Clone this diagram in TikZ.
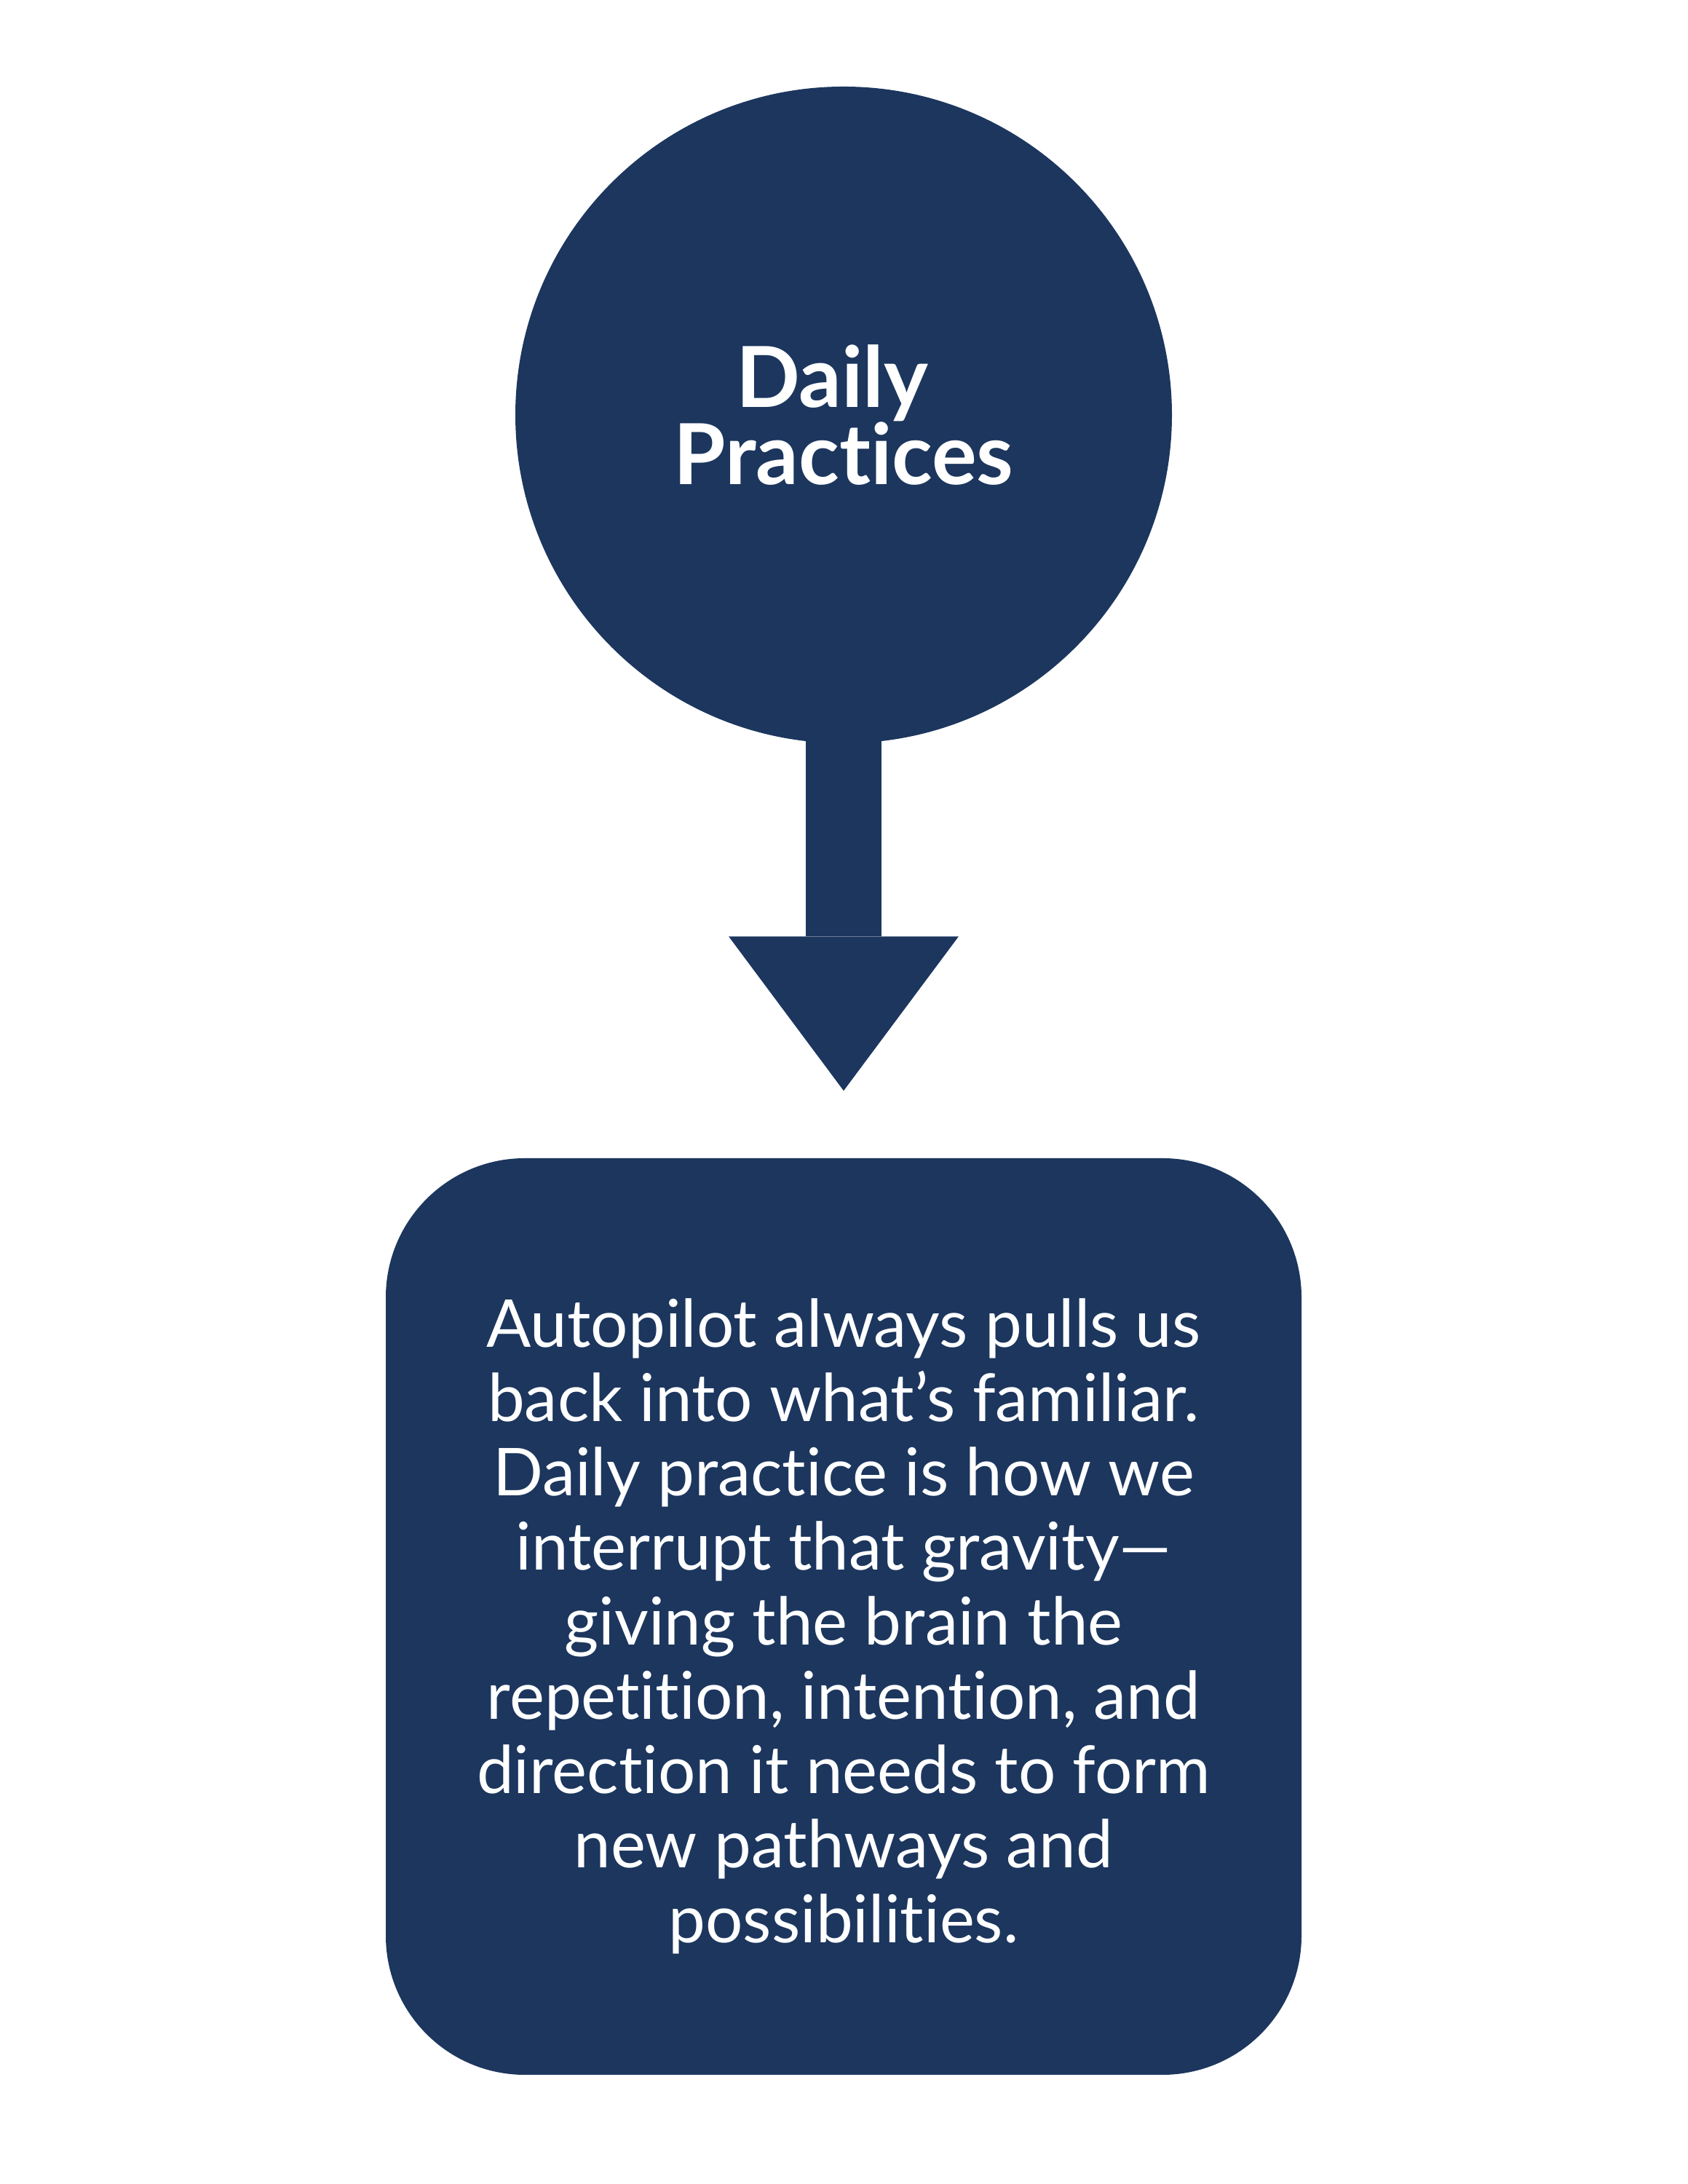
\documentclass[tikz,border=0pt]{standalone}
\usepackage{fontspec}
\setmainfont{Lato}[Ligatures=CommonOff]
\usepackage{xcolor}
\usetikzlibrary{calc}
\usetikzlibrary{positioning,arrows.meta}
\definecolor{navy}{RGB}{28,54,94}

\begin{document}
\begin{tikzpicture}[
  titlenode/.style={circle, fill=navy, text=white, minimum size=9.02cm,
    align=center, font=\bfseries\fontsize{32.9}{30.4}\selectfont},
  textbox/.style={rectangle, rounded corners=1.91cm, fill=navy, text=white,
    minimum width=12.58cm, minimum height=12.59cm,
    align=center, font=\fontsize{25.8}{29.1}\selectfont},
  flow/.style={navy, line width=1.04cm,
    -{Triangle[length=2.12cm, width=3.16cm, line width=0pt]}}]
  \useasboundingbox (0,0) rectangle (23.18,30);
  \node[titlenode] (practice) at (11.59,24.30) {Daily\hspace*{0.27em}\\Practices};
  \node[textbox] (note) at (11.59,7.795) {};
  % text sits a little below the middle of the box
  \node[align=center, text=white, font=\fontsize{25.8}{29.1}\selectfont]
    (notetext) at ($(note.center)+(0,-0.13)$)
    {Autopilot always pulls us\\
     back into what’s familiar.\\
     Daily practice is how we\\
     interrupt that gravity—\\
     giving the brain the\\
     repetition, intention, and\\
     direction it needs to form\\
     new pathways and\\
     possibilities.};
  \draw[flow] ($(practice.south)+(0,0.2)$) -- ($(note.north)+(0,0.92)$);
\end{tikzpicture}
\end{document}
